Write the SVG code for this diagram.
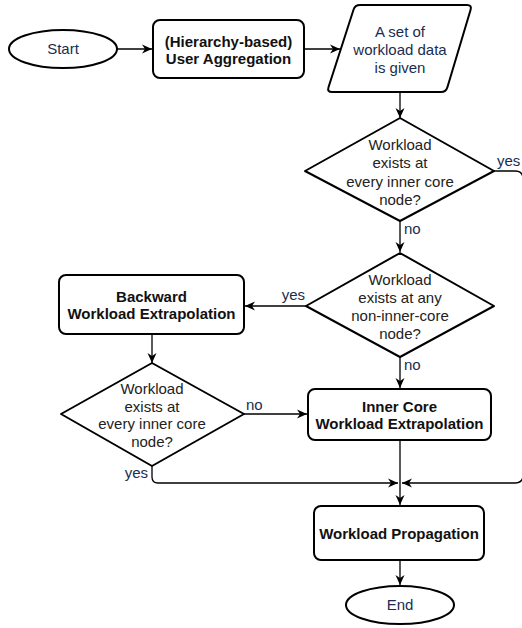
<svg xmlns="http://www.w3.org/2000/svg" width="522" height="628" viewBox="0 0 522 628">
<style>
.shape{fill:#fff;stroke:#000;stroke-width:2;stroke-linejoin:round}
.conn{fill:none;stroke:#000;stroke-width:1.3}
.t{font-family:"Liberation Sans",Arial,sans-serif;font-size:15px;text-anchor:middle}
.b{font-weight:bold;fill:#111}
.d{fill:#222}
.n{fill:#1b2d4f}
.lbl{font-family:"Liberation Sans",Arial,sans-serif;font-size:15px;fill:#1b2d4f}
</style>
<defs>
<marker id="arr" viewBox="0 0 10 10" refX="10" refY="5" markerWidth="10" markerHeight="10" markerUnits="userSpaceOnUse" orient="auto">
<path d="M0,0.5 L10,5 L0,9.5 L3,5 Z" fill="#000"/>
</marker>
</defs>
<rect width="522" height="628" fill="#fff"/>
<g id="connectors">
<path class="conn" d="M117,49 H152" marker-end="url(#arr)"/>
<path class="conn" d="M304,49 H340" marker-end="url(#arr)"/>
<path class="conn" d="M400,92 V118" marker-end="url(#arr)"/>
<path class="conn" d="M494,171 H515 Q523,171 523,179 V475 Q523,483 515,483 H402" marker-end="url(#arr)"/>
<path class="conn" d="M400,221 V252" marker-end="url(#arr)"/>
<path class="conn" d="M306,306 H245" marker-end="url(#arr)"/>
<path class="conn" d="M400,357 V388" marker-end="url(#arr)"/>
<path class="conn" d="M152,334 V363" marker-end="url(#arr)"/>
<path class="conn" d="M244,414 H307" marker-end="url(#arr)"/>
<path class="conn" d="M152,466 V477 Q152,483 158,483 H398" marker-end="url(#arr)"/>
<path class="conn" d="M400,440 V505" marker-end="url(#arr)"/>
<path class="conn" d="M400,560 V585" marker-end="url(#arr)"/>
<text class="lbl" x="497" y="166">yes</text>
<text class="lbl" x="404" y="234">no</text>
<text class="lbl" x="305" y="300" text-anchor="end">yes</text>
<text class="lbl" x="404" y="370">no</text>
<text class="lbl" x="246" y="410">no</text>
<text class="lbl" x="148" y="478" text-anchor="end">yes</text>
</g>
<g id="start">
<ellipse class="shape" cx="63" cy="49" rx="54" ry="19"/>
<text class="t n" x="63" y="54">Start</text>
</g>
<g id="aggregation">
<rect class="shape" x="153" y="20" width="151" height="58" rx="7"/>
<text class="t b" x="228.5" y="47">(Hierarchy-based)</text>
<text class="t b" x="228.5" y="64">User Aggregation</text>
</g>
<g id="data">
<path class="shape" d="M360,5 H467 Q472,5 470.6,9.8 L447.4,87.2 Q446,92 441,92 H332 Q327,92 328.5,87.2 L353.5,9.8 Q355,5 360,5 Z"/>
<text class="t n" x="400" y="37">A set of</text>
<text class="t n" x="400" y="55">workload data</text>
<text class="t n" x="400" y="73">is given</text>
</g>
<g id="decision1">
<polygon class="shape" points="400,118 494,171 400,221 305,171"/>
<text class="t d" x="400" y="150">Workload</text>
<text class="t d" x="400" y="168">exists at</text>
<text class="t d" x="400" y="187">every inner core</text>
<text class="t d" x="400" y="205">node?</text>
</g>
<g id="decision2">
<polygon class="shape" points="400,253 494,306 400,357 306,306"/>
<text class="t d" x="400" y="285">Workload</text>
<text class="t d" x="400" y="303">exists at any</text>
<text class="t d" x="400" y="321">non-inner-core</text>
<text class="t d" x="400" y="339">node?</text>
</g>
<g id="backward">
<rect class="shape" x="59" y="275" width="185" height="59" rx="7"/>
<text class="t b" x="151.5" y="302">Backward</text>
<text class="t b" x="151.5" y="319">Workload Extrapolation</text>
</g>
<g id="decision3">
<polygon class="shape" points="152,363 244,414 152,466 61,414"/>
<text class="t d" x="152" y="394">Workload</text>
<text class="t d" x="152" y="412">exists at</text>
<text class="t d" x="152" y="429">every inner core</text>
<text class="t d" x="152" y="447">node?</text>
</g>
<g id="innercore">
<rect class="shape" x="308" y="389" width="183" height="51" rx="7"/>
<text class="t b" x="399.5" y="412">Inner Core</text>
<text class="t b" x="399.5" y="429">Workload Extrapolation</text>
</g>
<g id="propagation">
<rect class="shape" x="314" y="506" width="170" height="54" rx="7"/>
<text class="t b" x="399" y="539">Workload Propagation</text>
</g>
<g id="end">
<ellipse class="shape" cx="400" cy="605" rx="54" ry="19"/>
<text class="t n" x="400" y="610">End</text>
</g>
</svg>
